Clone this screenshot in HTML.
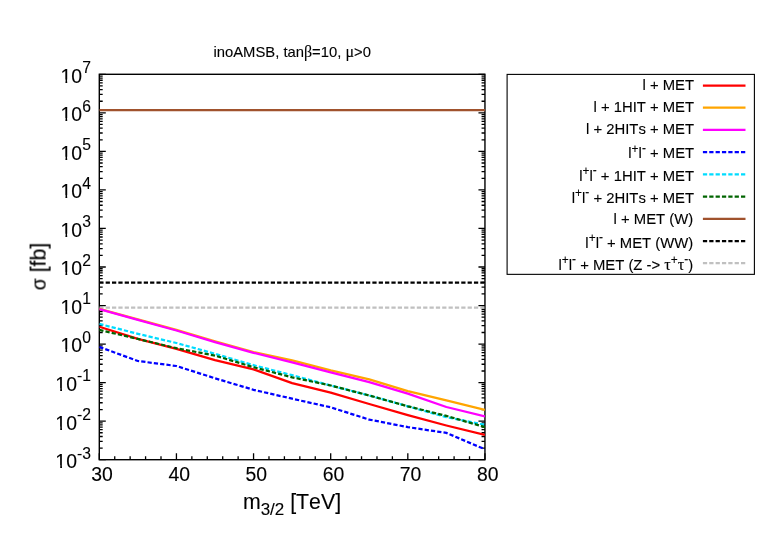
<!DOCTYPE html>
<html><head><meta charset="utf-8"><title>inoAMSB</title>
<style>html,body{margin:0;padding:0;background:#fff;}svg{display:block;}text{font-family:"Liberation Sans",sans-serif;fill:#000;font-kerning:none;stroke:#000;stroke-width:0.12px;}.gr{font-family:"Liberation Serif",serif;}</style></head><body>
<svg width="763" height="534" viewBox="0 0 763 534">
<rect x="0" y="0" width="763" height="534" fill="#ffffff"/>
<path d="M99.30 459.70h6.5M484.95 459.70h-6.5M99.30 448.10h3.4M484.95 448.10h-3.4M99.30 441.31h3.4M484.95 441.31h-3.4M99.30 436.50h3.4M484.95 436.50h-3.4M99.30 432.76h3.4M484.95 432.76h-3.4M99.30 429.71h3.4M484.95 429.71h-3.4M99.30 427.13h3.4M484.95 427.13h-3.4M99.30 424.89h3.4M484.95 424.89h-3.4M99.30 422.92h3.4M484.95 422.92h-3.4M99.30 421.16h6.5M484.95 421.16h-6.5M99.30 409.56h3.4M484.95 409.56h-3.4M99.30 402.77h3.4M484.95 402.77h-3.4M99.30 397.96h3.4M484.95 397.96h-3.4M99.30 394.22h3.4M484.95 394.22h-3.4M99.30 391.17h3.4M484.95 391.17h-3.4M99.30 388.59h3.4M484.95 388.59h-3.4M99.30 386.35h3.4M484.95 386.35h-3.4M99.30 384.38h3.4M484.95 384.38h-3.4M99.30 382.62h6.5M484.95 382.62h-6.5M99.30 371.02h3.4M484.95 371.02h-3.4M99.30 364.23h3.4M484.95 364.23h-3.4M99.30 359.42h3.4M484.95 359.42h-3.4M99.30 355.68h3.4M484.95 355.68h-3.4M99.30 352.63h3.4M484.95 352.63h-3.4M99.30 350.05h3.4M484.95 350.05h-3.4M99.30 347.81h3.4M484.95 347.81h-3.4M99.30 345.84h3.4M484.95 345.84h-3.4M99.30 344.08h6.5M484.95 344.08h-6.5M99.30 332.48h3.4M484.95 332.48h-3.4M99.30 325.69h3.4M484.95 325.69h-3.4M99.30 320.88h3.4M484.95 320.88h-3.4M99.30 317.14h3.4M484.95 317.14h-3.4M99.30 314.09h3.4M484.95 314.09h-3.4M99.30 311.51h3.4M484.95 311.51h-3.4M99.30 309.27h3.4M484.95 309.27h-3.4M99.30 307.30h3.4M484.95 307.30h-3.4M99.30 305.54h6.5M484.95 305.54h-6.5M99.30 293.94h3.4M484.95 293.94h-3.4M99.30 287.15h3.4M484.95 287.15h-3.4M99.30 282.34h3.4M484.95 282.34h-3.4M99.30 278.60h3.4M484.95 278.60h-3.4M99.30 275.55h3.4M484.95 275.55h-3.4M99.30 272.97h3.4M484.95 272.97h-3.4M99.30 270.73h3.4M484.95 270.73h-3.4M99.30 268.76h3.4M484.95 268.76h-3.4M99.30 267.00h6.5M484.95 267.00h-6.5M99.30 255.40h3.4M484.95 255.40h-3.4M99.30 248.61h3.4M484.95 248.61h-3.4M99.30 243.80h3.4M484.95 243.80h-3.4M99.30 240.06h3.4M484.95 240.06h-3.4M99.30 237.01h3.4M484.95 237.01h-3.4M99.30 234.43h3.4M484.95 234.43h-3.4M99.30 232.19h3.4M484.95 232.19h-3.4M99.30 230.22h3.4M484.95 230.22h-3.4M99.30 228.46h6.5M484.95 228.46h-6.5M99.30 216.86h3.4M484.95 216.86h-3.4M99.30 210.07h3.4M484.95 210.07h-3.4M99.30 205.26h3.4M484.95 205.26h-3.4M99.30 201.52h3.4M484.95 201.52h-3.4M99.30 198.47h3.4M484.95 198.47h-3.4M99.30 195.89h3.4M484.95 195.89h-3.4M99.30 193.65h3.4M484.95 193.65h-3.4M99.30 191.68h3.4M484.95 191.68h-3.4M99.30 189.92h6.5M484.95 189.92h-6.5M99.30 178.32h3.4M484.95 178.32h-3.4M99.30 171.53h3.4M484.95 171.53h-3.4M99.30 166.72h3.4M484.95 166.72h-3.4M99.30 162.98h3.4M484.95 162.98h-3.4M99.30 159.93h3.4M484.95 159.93h-3.4M99.30 157.35h3.4M484.95 157.35h-3.4M99.30 155.11h3.4M484.95 155.11h-3.4M99.30 153.14h3.4M484.95 153.14h-3.4M99.30 151.38h6.5M484.95 151.38h-6.5M99.30 139.78h3.4M484.95 139.78h-3.4M99.30 132.99h3.4M484.95 132.99h-3.4M99.30 128.18h3.4M484.95 128.18h-3.4M99.30 124.44h3.4M484.95 124.44h-3.4M99.30 121.39h3.4M484.95 121.39h-3.4M99.30 118.81h3.4M484.95 118.81h-3.4M99.30 116.57h3.4M484.95 116.57h-3.4M99.30 114.60h3.4M484.95 114.60h-3.4M99.30 112.84h6.5M484.95 112.84h-6.5M99.30 101.24h3.4M484.95 101.24h-3.4M99.30 94.45h3.4M484.95 94.45h-3.4M99.30 89.64h3.4M484.95 89.64h-3.4M99.30 85.90h3.4M484.95 85.90h-3.4M99.30 82.85h3.4M484.95 82.85h-3.4M99.30 80.27h3.4M484.95 80.27h-3.4M99.30 78.03h3.4M484.95 78.03h-3.4M99.30 76.06h3.4M484.95 76.06h-3.4M99.30 74.30h6.5M484.95 74.30h-6.5M99.30 459.70v-6.5M114.73 459.70v-3.4M130.15 459.70v-3.4M145.58 459.70v-3.4M161.00 459.70v-3.4M176.43 459.70v-6.5M191.86 459.70v-3.4M207.28 459.70v-3.4M222.71 459.70v-3.4M238.13 459.70v-3.4M253.56 459.70v-6.5M268.99 459.70v-3.4M284.41 459.70v-3.4M299.84 459.70v-3.4M315.26 459.70v-3.4M330.69 459.70v-6.5M346.12 459.70v-3.4M361.54 459.70v-3.4M376.97 459.70v-3.4M392.39 459.70v-3.4M407.82 459.70v-6.5M423.25 459.70v-3.4M438.67 459.70v-3.4M454.10 459.70v-3.4M469.52 459.70v-3.4M484.95 459.70v-6.5" stroke="#000" stroke-width="1.3" fill="none"/>
<rect x="99.3" y="74.3" width="385.65" height="385.40" fill="none" stroke="#000" stroke-width="1.4"/>
<clipPath id="c"><rect x="99.3" y="74.3" width="385.65" height="385.4"/></clipPath><g clip-path="url(#c)">
<line x1="99.30" y1="110.00" x2="484.95" y2="110.00" stroke="#a0522d" stroke-width="2.25"/>
<line x1="99.30" y1="282.60" x2="484.95" y2="282.60" stroke="#000000" stroke-width="2.25" stroke-dasharray="4.25 2.1"/>
<line x1="99.30" y1="307.60" x2="484.95" y2="307.60" stroke="#c0c0c0" stroke-width="2.25" stroke-dasharray="4.25 2.1"/>
<polyline points="99.30,326.70 137.87,338.90 176.43,348.90 215.00,360.10 253.56,369.40 292.12,383.10 330.69,392.70 369.25,404.00 407.82,415.20 446.38,425.50 484.95,435.00" fill="none" stroke="#ff0000" stroke-width="2.25" stroke-linejoin="round"/>
<polyline points="99.30,308.80 137.87,319.40 176.43,329.80 215.00,341.30 253.56,352.00 292.12,360.30 330.69,370.30 369.25,379.30 407.82,391.10 446.38,400.40 484.95,409.80" fill="none" stroke="#ffa500" stroke-width="2.25" stroke-linejoin="round"/>
<polyline points="99.30,309.20 137.87,319.90 176.43,330.50 215.00,342.10 253.56,352.80 292.12,362.30 330.69,372.40 369.25,382.20 407.82,393.60 446.38,407.00 484.95,416.50" fill="none" stroke="#ff00ff" stroke-width="2.25" stroke-linejoin="round"/>
<polyline points="99.30,346.90 137.87,361.00 176.43,366.00 215.00,378.30 253.56,389.80 292.12,398.70 330.69,407.30 369.25,419.60 407.82,427.10 446.38,432.90 484.95,449.30" fill="none" stroke="#0000ff" stroke-width="2.25" stroke-linejoin="round" stroke-dasharray="4.25 2.1"/>
<polyline points="99.30,323.90 137.87,333.80 176.43,343.00 215.00,353.80 253.56,365.20 292.12,375.20 330.69,385.50 369.25,395.50 407.82,406.30 446.38,417.10 484.95,424.80" fill="none" stroke="#00dcff" stroke-width="2.25" stroke-linejoin="round" stroke-dasharray="4.25 2.1"/>
<polyline points="99.30,329.90 137.87,338.90 176.43,348.20 215.00,355.60 253.56,367.20 292.12,377.30 330.69,385.50 369.25,395.50 407.82,406.30 446.38,415.90 484.95,427.10" fill="none" stroke="#006400" stroke-width="2.25" stroke-linejoin="round" stroke-dasharray="4.25 2.1"/>
</g>
<defs><filter id="f" x="-5%" y="-5%" width="110%" height="110%" color-interpolation-filters="sRGB"><feOffset dx="0" dy="0"/></filter></defs>
<g id="labels" filter="url(#f)">
<text x="90.9" y="468.10" text-anchor="end" font-size="19.4">10<tspan font-size="15.7" dy="-9.6">-3</tspan></text>
<text x="90.9" y="429.56" text-anchor="end" font-size="19.4">10<tspan font-size="15.7" dy="-9.6">-2</tspan></text>
<text x="90.9" y="391.02" text-anchor="end" font-size="19.4">10<tspan font-size="15.7" dy="-9.6">-1</tspan></text>
<text x="90.9" y="352.48" text-anchor="end" font-size="19.4">10<tspan font-size="15.7" dy="-9.6">0</tspan></text>
<text x="90.9" y="313.94" text-anchor="end" font-size="19.4">10<tspan font-size="15.7" dy="-9.6">1</tspan></text>
<text x="90.9" y="275.40" text-anchor="end" font-size="19.4">10<tspan font-size="15.7" dy="-9.6">2</tspan></text>
<text x="90.9" y="236.86" text-anchor="end" font-size="19.4">10<tspan font-size="15.7" dy="-9.6">3</tspan></text>
<text x="90.9" y="198.32" text-anchor="end" font-size="19.4">10<tspan font-size="15.7" dy="-9.6">4</tspan></text>
<text x="90.9" y="159.78" text-anchor="end" font-size="19.4">10<tspan font-size="15.7" dy="-9.6">5</tspan></text>
<text x="90.9" y="121.24" text-anchor="end" font-size="19.4">10<tspan font-size="15.7" dy="-9.6">6</tspan></text>
<text x="90.9" y="82.70" text-anchor="end" font-size="19.4">10<tspan font-size="15.7" dy="-9.6">7</tspan></text>
<path d="M55.55 464.97H60.21V468.70H55.55ZM61.98 464.97H65.88V468.70H61.98ZM55.55 426.43H60.21V430.16H55.55ZM61.98 426.43H65.88V430.16H61.98ZM55.55 387.89H60.21V391.62H55.55ZM61.98 387.89H65.88V391.62H61.98ZM60.78 349.35H65.44V353.08H60.78ZM67.21 349.35H71.10V353.08H67.21ZM60.78 310.81H65.44V314.54H60.78ZM67.21 310.81H71.10V314.54H67.21ZM60.78 272.27H65.44V276.00H60.78ZM67.21 272.27H71.10V276.00H67.21ZM60.78 233.73H65.44V237.46H60.78ZM67.21 233.73H71.10V237.46H67.21ZM60.78 195.19H65.44V198.92H60.78ZM67.21 195.19H71.10V198.92H67.21ZM60.78 156.65H65.44V160.38H60.78ZM67.21 156.65H71.10V160.38H67.21ZM60.78 118.11H65.44V121.84H60.78ZM67.21 118.11H71.10V121.84H67.21ZM60.78 79.57H65.44V83.30H60.78ZM67.21 79.57H71.10V83.30H67.21Z" fill="#fff"/>
<text x="102.10" y="481.3" text-anchor="middle" font-size="19.4">30</text>
<text x="179.23" y="481.3" text-anchor="middle" font-size="19.4">40</text>
<text x="256.36" y="481.3" text-anchor="middle" font-size="19.4">50</text>
<text x="333.49" y="481.3" text-anchor="middle" font-size="19.4">60</text>
<text x="410.62" y="481.3" text-anchor="middle" font-size="19.4">70</text>
<text x="487.75" y="481.3" text-anchor="middle" font-size="19.4">80</text>
<text x="292.0" y="509.2" text-anchor="middle" font-size="21.3">m<tspan font-size="17.0" dy="6.2">3/2</tspan><tspan dy="-6.2"> [TeV]</tspan></text>
<text transform="translate(45.6,266.5) rotate(-90)" text-anchor="middle" font-size="21.3"><tspan font-size="19.5">σ</tspan> [fb]</text>
<text x="292.2" y="57.4" text-anchor="middle" font-size="14.8">inoAMSB, tan<tspan class="gr" font-size="16">β</tspan>=10, <tspan class="gr" font-size="16">μ</tspan>&gt;0</text>
</g>
<rect x="507.1" y="74.4" width="247.30" height="199.95" fill="none" stroke="#000" stroke-width="1.1"/>
<g id="legend" filter="url(#f)">
<text x="694.10" y="89.96" text-anchor="end" font-size="14.85">l + MET</text>
<line x1="702.9" y1="85.51" x2="745.5" y2="85.51" stroke="#ff0000" stroke-width="2.25"/>
<text x="694.10" y="112.18" text-anchor="end" font-size="14.85">l + 1HIT + MET</text>
<line x1="702.9" y1="107.73" x2="745.5" y2="107.73" stroke="#ffa500" stroke-width="2.25"/>
<text x="694.10" y="134.39" text-anchor="end" font-size="14.85">l + 2HITs + MET</text>
<line x1="702.9" y1="129.94" x2="745.5" y2="129.94" stroke="#ff00ff" stroke-width="2.25"/>
<text x="694.10" y="158.46" text-anchor="end" font-size="14.85">l<tspan font-size="11.9" dy="-5.8">+</tspan><tspan dy="5.8">l</tspan><tspan font-size="11.9" dy="-6.8">-</tspan><tspan dy="6.8"> + MET</tspan></text>
<line x1="702.9" y1="152.16" x2="745.5" y2="152.16" stroke="#0000ff" stroke-width="2.25" stroke-dasharray="4.25 2.1"/>
<text x="694.10" y="180.68" text-anchor="end" font-size="14.85">l<tspan font-size="11.9" dy="-5.8">+</tspan><tspan dy="5.8">l</tspan><tspan font-size="11.9" dy="-6.8">-</tspan><tspan dy="6.8"> + 1HIT + MET</tspan></text>
<line x1="702.9" y1="174.38" x2="745.5" y2="174.38" stroke="#00dcff" stroke-width="2.25" stroke-dasharray="4.25 2.1"/>
<text x="694.10" y="202.89" text-anchor="end" font-size="14.85">l<tspan font-size="11.9" dy="-5.8">+</tspan><tspan dy="5.8">l</tspan><tspan font-size="11.9" dy="-6.8">-</tspan><tspan dy="6.8"> + 2HITs + MET</tspan></text>
<line x1="702.9" y1="196.59" x2="745.5" y2="196.59" stroke="#006400" stroke-width="2.25" stroke-dasharray="4.25 2.1"/>
<text x="693.20" y="224.31" text-anchor="end" font-size="14.85">l + MET (W)</text>
<line x1="702.9" y1="218.81" x2="745.5" y2="218.81" stroke="#a0522d" stroke-width="2.25"/>
<text x="693.20" y="247.68" text-anchor="end" font-size="14.85">l<tspan font-size="11.9" dy="-5.8">+</tspan><tspan dy="5.8">l</tspan><tspan font-size="11.9" dy="-6.8">-</tspan><tspan dy="6.8"> + MET (WW)</tspan></text>
<line x1="702.9" y1="241.03" x2="745.5" y2="241.03" stroke="#000000" stroke-width="2.25" stroke-dasharray="4.25 2.1"/>
<text x="693.20" y="270.09" text-anchor="end" font-size="14.85">l<tspan font-size="11.9" dy="-5.8">+</tspan><tspan dy="5.8">l</tspan><tspan font-size="11.9" dy="-6.8">-</tspan><tspan dy="6.8"> + MET (Z -&gt; </tspan><tspan class="gr" font-size="16.2">τ</tspan><tspan font-size="11.9" dy="-5.8">+</tspan><tspan class="gr" font-size="16.2" dy="5.8">τ</tspan><tspan font-size="11.9" dy="-6.8">-</tspan><tspan dy="6.8">)</tspan></text>
<line x1="702.9" y1="263.24" x2="745.5" y2="263.24" stroke="#c0c0c0" stroke-width="2.25" stroke-dasharray="4.25 2.1"/>
</g>
</svg></body></html>
